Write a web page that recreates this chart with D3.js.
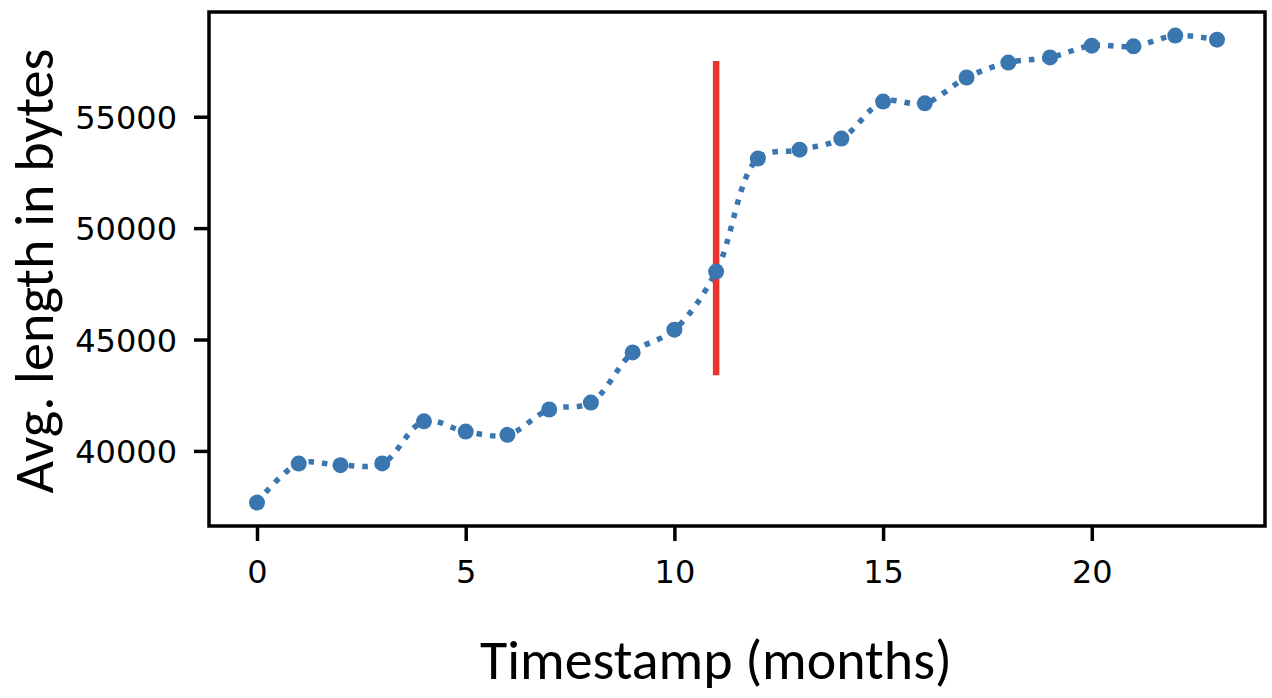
<!DOCTYPE html>
<html>
<head>
<meta charset="utf-8">
<script src="https://cdn.jsdelivr.net/npm/d3@7"></script>
<style>
  html, body { margin: 0; padding: 0; background: #fff; }
  svg { display: block; }
</style>
</head>
<body>
<svg id="chart" width="1272" height="698"></svg>
<script>
// ---- data ----
const months = [0,1,2,3,4,5,6,7,8,9,10,11,12,13,14,15,16,17,18,19,20,21,22,23];
const avgLength = [37680, 39430, 39360, 39440, 41330, 40870, 40720, 41860, 42170, 44420,
                   45440, 48050, 53120, 53520, 54020, 55680, 55600, 56760, 57430, 57660,
                   58190, 58160, 58640, 58460];
const xTicks = [0, 5, 10, 15, 20];
const yTicks = [40000, 45000, 50000, 55000];
const eventMonth = 11;
const eventRange = [43400, 57500];
const xLabel = "Timestamp (months)";
const yLabel = "Avg. length in bytes";

(function () {
// ---- layout ----
const svg = d3.select("#chart");
const pLeft = 209, pRight = 1265, pTop = 12, pBottom = 526;

const x = d3.scaleLinear().domain([-1.15, 24.15]).range([pLeft, pRight]);
const y = d3.scaleLinear().domain([36630, 59700]).range([pBottom, pTop]);

const blue = "#3a76b0";
const red = "#e8352b";

// data line
const line = d3.line().x((d, i) => x(months[i])).y(d => y(d)).curve(d3.curveCatmullRom);
svg.append("path")
  .datum(avgLength)
  .attr("d", line)
  .attr("fill", "none")
  .attr("stroke", blue)
  .attr("stroke-width", 5.5)
  .attr("stroke-dasharray", "5.5,8");

// event line
svg.append("line")
  .attr("x1", x(eventMonth)).attr("x2", x(eventMonth))
  .attr("y1", y(eventRange[1])).attr("y2", y(eventRange[0]))
  .attr("stroke", red).attr("stroke-width", 6.5);

// points
svg.append("g").selectAll("circle")
  .data(avgLength)
  .join("circle")
  .attr("cx", (d, i) => x(months[i]))
  .attr("cy", d => y(d))
  .attr("r", 8)
  .attr("fill", blue);

// frame
svg.append("rect")
  .attr("x", pLeft).attr("y", pTop)
  .attr("width", pRight - pLeft).attr("height", pBottom - pTop)
  .attr("fill", "none").attr("stroke", "#000").attr("stroke-width", 3.5);

// axes
const xAxis = d3.axisBottom(x).tickValues(xTicks).tickSize(15).tickPadding(10).tickFormat(d3.format("d"));
const gx = svg.append("g").attr("transform", `translate(0,${pBottom})`).call(xAxis);
const yAxis = d3.axisLeft(y).tickValues(yTicks).tickSize(15).tickPadding(17).tickFormat(d3.format("d"));
const gy = svg.append("g").attr("transform", `translate(${pLeft},0)`).call(yAxis);

[gx, gy].forEach(g => {
  g.select(".domain").remove();
  g.selectAll(".tick line").attr("stroke", "#000").attr("stroke-width", 3.5);
  g.selectAll(".tick text")
    .attr("fill", "#000")
    .style("font-family", "'DejaVu Sans', sans-serif")
    .style("font-size", "32px");
});
gx.selectAll(".tick text").attr("dy", null).attr("y", 57);
gy.selectAll(".tick text").attr("dy", "0.36em");

// axis titles (fit to measured widths)
const titleFont = "Carlito, Lato, 'Open Sans', sans-serif";
const xt = svg.append("text")
  .text(xLabel)
  .attr("text-anchor", "middle")
  .style("font-family", titleFont)
  .style("font-size", "100px")
  .attr("fill", "#000");
let w = xt.node().getComputedTextLength();
xt.style("font-size", (100 * 472 / w) + "px")
  .attr("x", 716).attr("y", 679);

const yt = svg.append("text")
  .text(yLabel)
  .attr("text-anchor", "middle")
  .style("font-family", titleFont)
  .style("font-size", "100px")
  .attr("fill", "#000");
w = yt.node().getComputedTextLength();
yt.style("font-size", (100 * 445 / w) + "px")
  .attr("transform", "translate(53,271) rotate(-90)");
})();
</script>
</body>
</html>
